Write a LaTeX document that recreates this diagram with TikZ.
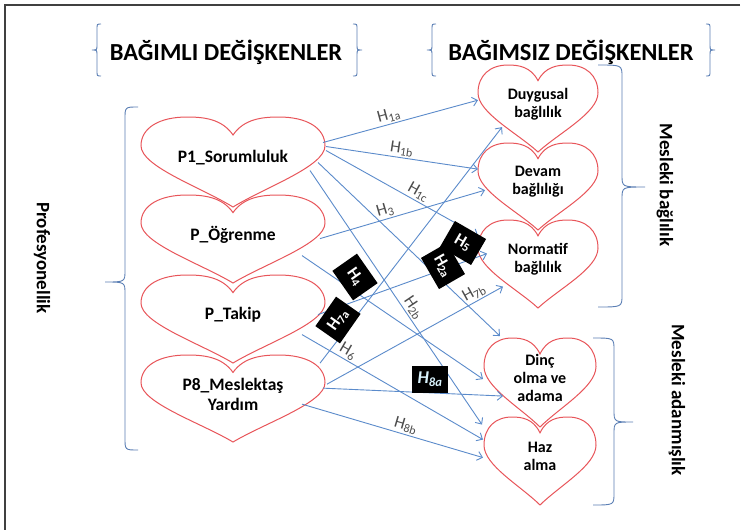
\documentclass[tikz,border=0pt]{standalone}
\usepackage{fontspec}
\setmainfont{Carlito}
\definecolor{heartred}{HTML}{E8555A}
\definecolor{linkblue}{HTML}{5B8BCB}
\definecolor{bracegray}{HTML}{5B7FB5}
\usetikzlibrary{calc, arrows.meta}

\tikzset{
  heartline/.style={draw=heartred, line width=1pt},
  link/.style={draw=linkblue, line width=0.9pt, -{Straight Barb[length=5pt,width=9pt]}},
  hlabel/.style={font=\fontsize{17}{17}\selectfont, text=black!70, inner sep=1.5pt},
  hbox/.style={fill=black, text=white, font=\fontsize{17}{17}\selectfont\bfseries, inner sep=3pt, minimum width=36pt, minimum height=30pt},
  bracepath/.style={draw=bracegray, line width=0.9pt},
  header/.style={font=\fontsize{24.5}{24.5}\selectfont\bfseries},
  sidelabel/.style={font=\fontsize{19}{19}\selectfont\bfseries, rotate=-90},
}

\begin{document}
\begin{tikzpicture}[x=1pt, y=-1pt]
  \useasboundingbox (0,0) rectangle (746,530);
  \fill[white] (0,0) rectangle (746,530);
  \draw[black!75, line width=1.3pt] (740,5) -- (5,5) -- (5,530);

  % headers
  \node[header] (dep) at (226,52) {BAĞIMLI DEĞİŞKENLER};
  \node[header] (indep) at (571,52) {BAĞIMSIZ DEĞİŞKENLER};

  % braces: ends x / top / bottom / body x / tip x / tip y / hook
  \foreach \x/\ya/\yb/\xb/\xt/\ym/\r in {
    101/24/76/97/92/50/5,
    353/24/76/357/362/50/5,
    436/24/76/432/427/50/5,
    706/24/76/710/715/50/5,
    138/107/450/125/105/282/12,
    598/65/307/622/645/187/12,
    593/338/505/614/633/422/12} {
    \draw[bracepath] (\x,\ya) .. controls (\xb,\ya) .. (\xb,{\ya+\r})
      -- (\xb,{\ym-\r}) .. controls (\xb,\ym) .. (\xt,\ym)
      .. controls (\xb,\ym) .. (\xb,{\ym+\r})
      -- (\xb,{\yb-\r}) .. controls (\xb,\yb) .. (\x,\yb);
  }

  % left hearts
  \foreach \n/\x/\y/\h/\txt in {
    p1/233/117/90/{P1\_Sorumluluk},
    p2/233/195/88/{P\_Öğrenme},
    p3/233/275/88/{P\_Takip},
    p4/233/355/87/{P8\_Meslektaş\\Yardım}} {
    \draw[heartline, shift={(\x,\y)}, xscale=92, yscale=\h]
      (0,0.2) .. controls (0.12,0.02) and (0.32,0) .. (0.5,0)
      .. controls (0.8,0) and (1,0.12) .. (1,0.32)
      .. controls (1,0.55) and (0.35,0.78) .. (0,1)
      .. controls (-0.35,0.78) and (-1,0.55) .. (-1,0.32)
      .. controls (-1,0.12) and (-0.8,0) .. (-0.5,0)
      .. controls (-0.32,0) and (-0.12,0.02) .. (0,0.2) -- cycle;
    \node[font=\fontsize{17.5}{20}\selectfont\bfseries, align=center] (\n) at (\x,{\y+0.45*\h}) {\txt};
  }

  % right hearts
  \foreach \n/\x/\y/\a/\h/\txt in {
    duy/538/65/60/87/{Duygusal\\bağlılık},
    dev/538/143/60/87/{Devam\\bağlılığı},
    nor/538/220/60/88/{Normatif\\bağlılık},
    dinc/540/338/56/89/{Dinç\\olma ve\\adama},
    haz/540/417/56/88/{Haz\\alma}} {
    \draw[heartline, shift={(\x,\y)}, xscale=\a, yscale=\h]
      (0,0.18) .. controls (0.12,0.02) and (0.32,0) .. (0.5,0)
      .. controls (0.8,0) and (1,0.12) .. (1,0.32)
      .. controls (1,0.55) and (0.35,0.78) .. (0,1)
      .. controls (-0.35,0.78) and (-1,0.55) .. (-1,0.32)
      .. controls (-1,0.12) and (-0.8,0) .. (-0.5,0)
      .. controls (-0.32,0) and (-0.12,0.02) .. (0,0.18) -- cycle;
    \node[font=\fontsize{16}{18}\selectfont\bfseries, align=center] (\n) at (\x,{\y+0.45*\h}) {\txt};
  }

  % side labels
  \node[sidelabel] (prof) at (42,258) {Profesyonellik};
  \node[sidelabel] (bag) at (665,185) {Mesleki bağlılık};
  \node[sidelabel] (adan) at (677,400) {Mesleki adanmışlık};

  % hypotheses
  \draw[link] ($(p1)+(90,-15)$) -- node[hlabel, pos=0.44, sloped, above] (l1a) {H\textsubscript{1a}} ($(duy)+(-60,-4)$);
  \draw[link] ($(p1)+(93,-11)$) -- node[hlabel, pos=0.49, sloped, above] (l1b) {H\textsubscript{1b}} ($(dev)+(-60,-13)$);
  \draw[link] ($(p1)+(93,-7)$) -- node[hlabel, pos=0.58, sloped, above] (l1c) {H\textsubscript{1c}} ($(nor)+(-60,-24)$);
  \draw[link] ($(p1)+(85,5)$) -- ($(dinc)+(-40,-42)$);
  \draw[link] ($(p1)+(77,13)$) -- node[hlabel, pos=0.56, sloped, above] (l2b) {H\textsubscript{2b}} ($(haz)+(-58,-32)$);
  \draw[link] ($(p2)+(87,4)$) -- node[hlabel, pos=0.41, sloped, above] (l3) {H\textsubscript{3}} ($(dev)+(-53,8)$);
  \draw[link] ($(p2)+(69,21)$) -- ($(dinc)+(-57,1)$);
  \draw[link] ($(p3)+(85,0)$) -- ($(nor)+(-51,-6)$);
  \draw[link] ($(p3)+(69,20)$) -- node[hlabel, pos=0.23, sloped, above] (l6) {H\textsubscript{6}} ($(haz)+(-57,-17)$);
  \draw[link] ($(p4)+(87,-31)$) -- ($(duy)+(-36,23)$);
  \draw[link] ($(p4)+(94,-10)$) -- node[hlabel, pos=0.86, sloped, above] (l7b) {H\textsubscript{7b}} ($(nor)+(-35,27)$);
  \draw[link] ($(p4)+(90,-6)$) -- ($(dinc)+(-37,18)$);
  \draw[link] ($(p4)+(69,10)$) -- node[hlabel, pos=0.56, sloped, above] (l8b) {H\textsubscript{8b}} ($(haz)+(-57,1)$);

  % black labels
  \node[hbox, rotate=-55] (l4) at (355,277) {H\textsubscript{4}};
  \node[hbox, rotate=55] (l7a) at (338,320) {H\textsubscript{7a}};
  \node[hbox, rotate=-30] (l5) at (463,243) {H\textsubscript{5}};
  \node[hbox, rotate=-60] (l2a) at (443,266) {H\textsubscript{2a}};
  \node[hbox, text=white!85!cyan, font=\fontsize{18}{18}\selectfont\bfseries\itshape, minimum height=27pt] (l8a) at (430,379) {H\textsubscript{8a}};
\end{tikzpicture}
\end{document}
